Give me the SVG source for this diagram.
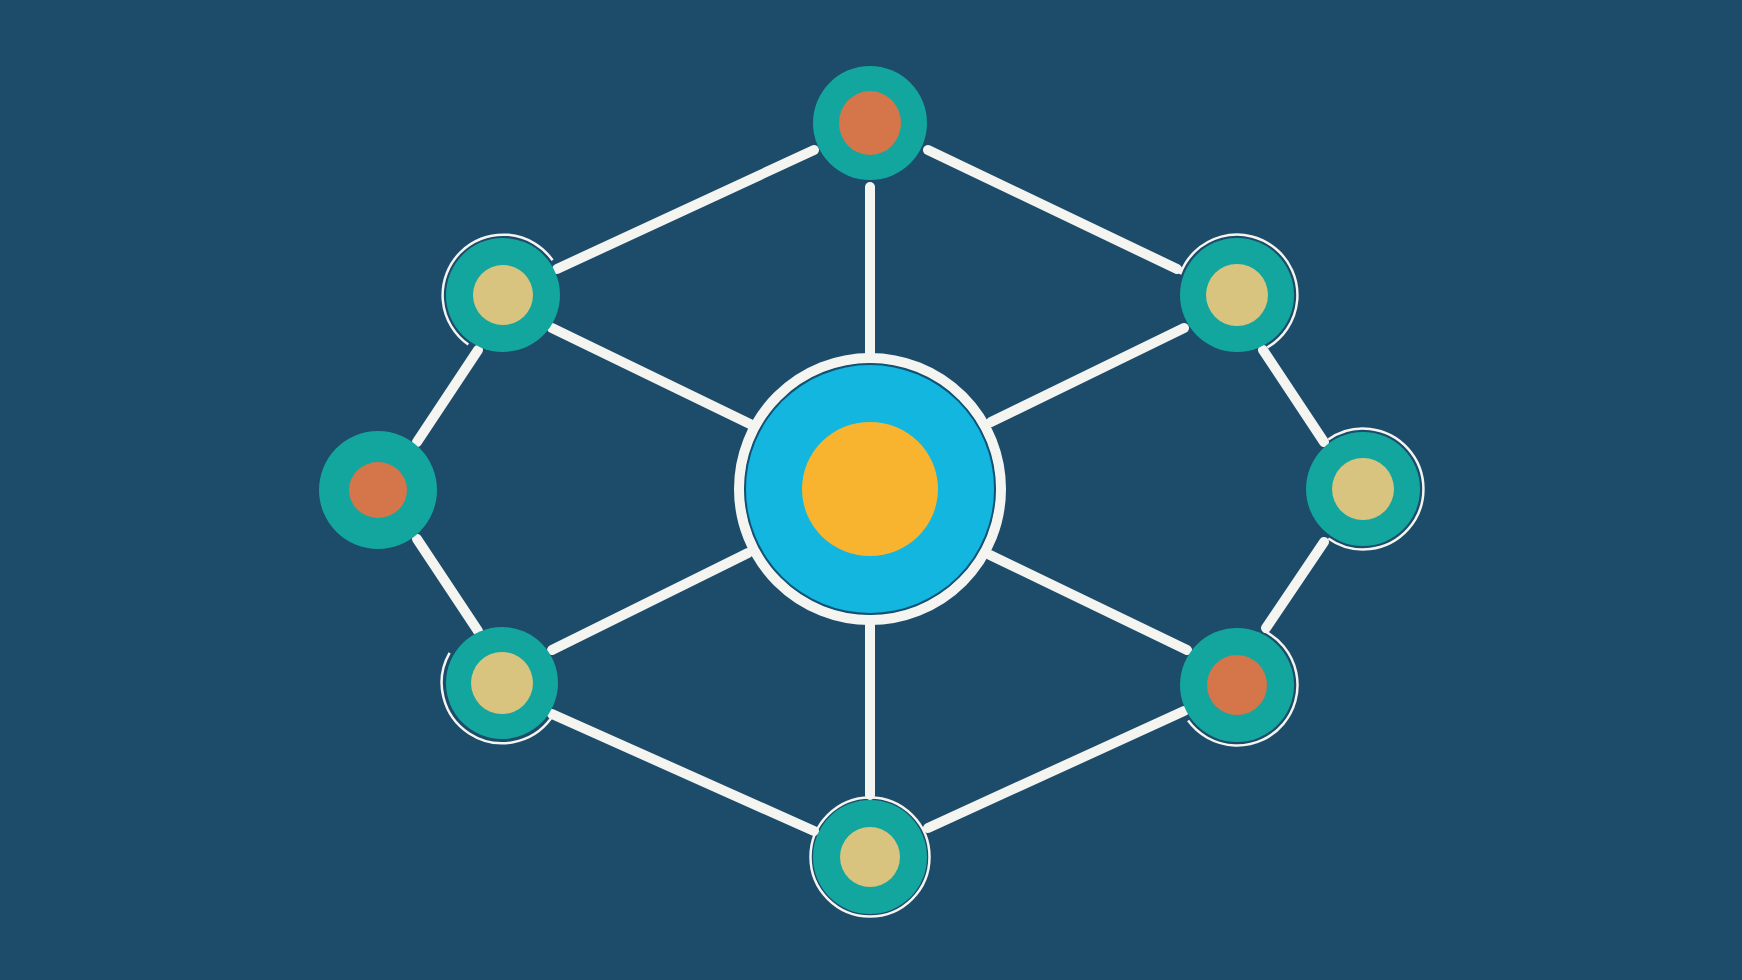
<svg xmlns="http://www.w3.org/2000/svg" width="1742" height="980" viewBox="0 0 1742 980">
<style>
.edge{stroke:#F4F4F1;stroke-width:10;stroke-linecap:round;fill:none}
.teal{fill:#13A69E}
.orange{fill:#D5754A}
.tan{fill:#D9C47F}
.halo{fill:none;stroke:#F4F4F1;stroke-width:2.5}
</style>
<rect width="1742" height="980" fill="#1D4B6A"/>
<g id="connectors">
<line class="edge" x1="814" y1="150" x2="557" y2="269"/>
<line class="edge" x1="928" y1="150" x2="1177" y2="269"/>
<line class="edge" x1="870" y1="187" x2="870" y2="353"/>
<line class="edge" x1="552" y1="328" x2="750" y2="424"/>
<line class="edge" x1="1184" y1="328" x2="991" y2="422"/>
<line class="edge" x1="478" y1="350" x2="417" y2="442"/>
<line class="edge" x1="417" y1="539" x2="478" y2="631"/>
<line class="edge" x1="1263" y1="350" x2="1324" y2="442"/>
<line class="edge" x1="1324" y1="542" x2="1266" y2="628"/>
<line class="edge" x1="552" y1="650" x2="748" y2="553"/>
<line class="edge" x1="1187" y1="650" x2="990" y2="555"/>
<line class="edge" x1="552" y1="714" x2="814" y2="831"/>
<line class="edge" x1="1184" y1="711" x2="928" y2="828"/>
<line class="edge" x1="870" y1="625" x2="870" y2="795"/>
</g>
<g id="node-center">
<circle cx="870" cy="489" r="131" fill="none" stroke="#F4F4F1" stroke-width="10"/>
<circle cx="870" cy="489" r="125.5" fill="#0F5478"/>
<circle cx="870" cy="489" r="124" fill="#12B6DF"/>
<ellipse cx="870" cy="489" rx="68" ry="67" fill="#F8B42F"/>
</g>
<g id="node-top">
<circle class="teal" cx="870" cy="123" r="57"/>
<ellipse class="orange" cx="870" cy="123" rx="31" ry="32"/>
</g>
<g id="node-upper-left">
<path class="halo" d="M468.3,344.6 A60.5,60.5 0 1 1 552.6,260.3"/>
<circle class="teal" cx="503" cy="295" r="57"/>
<circle class="tan" cx="503" cy="295" r="30"/>
</g>
<g id="node-upper-right">
<path class="halo" d="M1180.1,274.3 A60.5,60.5 0 1 1 1267.3,347.4"/>
<circle class="teal" cx="1237" cy="295" r="57"/>
<circle class="tan" cx="1237" cy="295" r="31"/>
</g>
<g id="node-left">
<circle class="teal" cx="378" cy="490" r="59"/>
<ellipse class="orange" cx="378" cy="490" rx="29" ry="28"/>
</g>
<g id="node-right">
<path class="halo" d="M1328.3,439.4 A60.5,60.5 0 1 1 1328.3,538.6"/>
<circle class="teal" cx="1363" cy="489" r="57"/>
<circle class="tan" cx="1363" cy="489" r="31"/>
</g>
<g id="node-lower-left">
<path class="halo" d="M550.9,718.6 A60.5,60.5 0 0 1 449.6,652.8"/>
<circle class="teal" cx="502" cy="683" r="56"/>
<circle class="tan" cx="502" cy="683" r="31"/>
</g>
<g id="node-lower-right">
<path class="halo" d="M1263.5,630.6 A60.5,60.5 0 1 1 1188.1,720.6"/>
<circle class="teal" cx="1237" cy="685" r="57"/>
<circle class="orange" cx="1237" cy="685" r="30"/>
</g>
<g id="node-bottom">
<circle class="halo" cx="870" cy="857" r="59.5"/>
<circle class="teal" cx="870" cy="857" r="57"/>
<circle class="tan" cx="870" cy="857" r="30"/>
</g>
</svg>
